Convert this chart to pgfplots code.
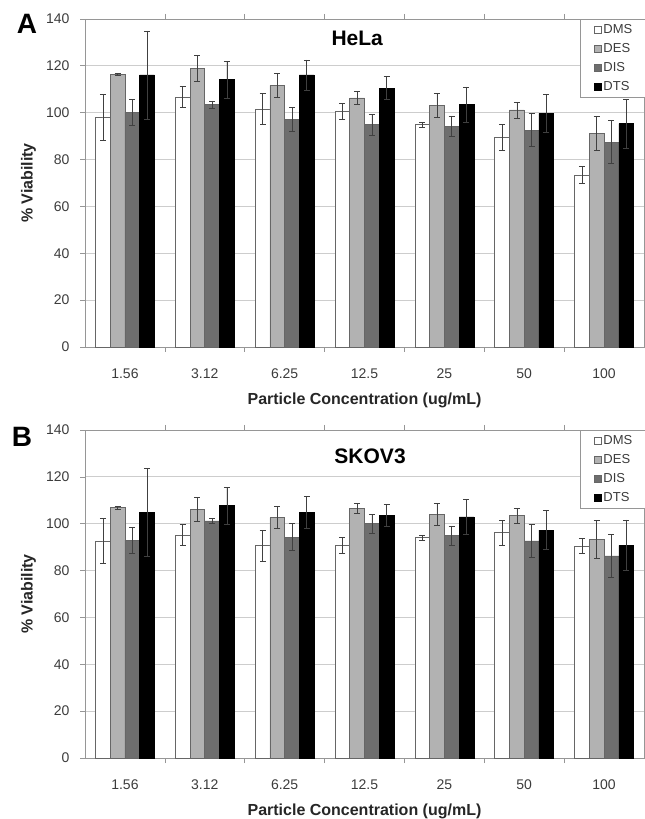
\documentclass[border=0pt]{standalone}
\usepackage{fontspec}
\setmainfont{Liberation Sans}
\usepackage{pgfplots}
\usepackage{pgfplotstable}
\pgfplotsset{compat=1.18}

\definecolor{desgray}{RGB}{178,178,178}
\definecolor{disgray}{RGB}{110,110,110}
\definecolor{axgray}{RGB}{150,150,150}
\definecolor{gridgray}{RGB}{205,205,205}
\definecolor{txtgray}{RGB}{60,60,60}

% HeLa viability, mean and error per particle type
\pgfplotstableread{
x dms dmse des dese dis dise dts dtse
0 98.2 9.8 116.5 0.5 100.2 5.6 116.1 18.8
1 106.6 4.5 119.0 5.4 103.5 1.5 114.1 7.8
2 101.6 6.7 111.7 5.0 97.2 5.2 116.1 6.4
3 100.5 3.4 106.3 2.7 94.9 4.5 110.5 4.9
4 94.9 1.1 103.2 5.1 94.3 4.3 103.5 7.5
5 89.5 5.6 101.2 3.4 92.6 7.1 99.7 8.0
6 73.4 3.6 91.2 7.4 87.4 9.2 95.3 10.3
}\helatab

% SKOV3 viability
\pgfplotstableread{
x dms dmse des dese dis dise dts dtse
0 92.6 9.7 106.8 0.5 93.0 5.5 104.9 18.8
1 95.2 4.4 106.2 5.1 101.2 1.2 107.7 7.9
2 90.6 6.6 102.6 4.7 94.3 5.7 104.9 6.8
3 90.9 3.5 106.6 2.2 100.0 4.1 103.6 4.7
4 94.0 0.9 104.0 4.8 95.0 4.1 102.9 7.5
5 96.2 5.4 103.4 3.2 92.7 7.0 97.3 8.3
6 90.5 3.3 93.2 8.1 86.3 9.0 90.8 10.8
}\skovtab

\pgfplotsset{
  panel/.style={
    width=559bp, height=328bp, scale only axis,
    ymin=0, ymax=140, ytick={0,20,...,140},
    xmin=-0.5, xmax=6.5,
    xtick={0,...,6},
    xticklabels={1.56,3.12,6.25,12.5,25,50,100},
    minor xtick={0.5,1.5,...,5.5},
    major x tick style={draw=none},
    tick align=outside,
    major tick length=5bp, minor tick length=5bp,
    tick style={axgray, line width=0.7bp},
    axis line style={axgray, line width=0.8bp},
    ymajorgrids, grid style={gridgray, line width=0.8bp},
    ybar=0pt, bar width=0.1847,
    tick label style={font=\fontsize{14bp}{16bp}\selectfont, text=txtgray},
    yticklabel style={xshift=-7bp},
    xticklabel style={yshift=-13bp},
    /pgf/number format/assume math mode=true,
    ylabel={\% Viability},
    xlabel={Particle Concentration (ug/mL)},
    label style={font=\fontsize{16bp}{18bp}\selectfont\bfseries, text=black!85},
    ylabel style={at={(axis description cs:-0.101,0.5)}, anchor=center},
    xlabel style={at={(axis description cs:0.5,-0.162)}, anchor=center},
    legend style={at={(rel axis cs:0.8855,1)}, anchor=north west, draw=axgray,
      font=\fontsize{13bp}{15bp}\selectfont, text=txtgray,
      nodes={text height=9.5bp, text depth=2.5bp, inner sep=1.5bp},
      row sep=4bp, inner xsep=14bp, inner ysep=3bp, line width=0.8bp},
    legend cell align=left,
    legend image code/.code={\draw[#1, line width=0.6bp] (0bp,-3.5bp) rectangle (7bp,3.5bp);},
    error bars/y dir=both, error bars/y explicit,
    error bars/error bar style={line width=0.6bp, draw=black!75},
    error bars/error mark options={rotate=90, mark size=3bp, line width=0.6bp, draw=black!75},
    clip=false,
  },
  dmsbar/.style={fill=white, draw=black!60, line width=0.6bp},
  desbar/.style={fill=desgray, draw=black!60, line width=0.6bp},
  disbar/.style={fill=disgray, draw=black!60, line width=0.6bp},
  dtsbar/.style={fill=black, draw=black, line width=0.6bp},
}

\begin{document}
\begin{tikzpicture}
\useasboundingbox (0,0) rectangle (645bp,819bp);

\begin{axis}[panel, at={(85bp,472bp)}, anchor=south west]
\addplot[dmsbar] table[x=x, y=dms, y error=dmse] {\helatab};
\addlegendentry{DMS}
\addplot[desbar] table[x=x, y=des, y error=dese] {\helatab};
\addlegendentry{DES}
\addplot[disbar] table[x=x, y=dis, y error=dise] {\helatab};
\addlegendentry{DIS}
\addplot[dtsbar] table[x=x, y=dts, y error=dtse] {\helatab};
\addlegendentry{DTS}
\node[font=\fontsize{21bp}{24bp}\selectfont\bfseries] at (axis description cs:0.487,0.942) {HeLa};
\end{axis}

\begin{axis}[panel, at={(85bp,61bp)}, anchor=south west]
\addplot[dmsbar] table[x=x, y=dms, y error=dmse] {\skovtab};
\addlegendentry{DMS}
\addplot[desbar] table[x=x, y=des, y error=dese] {\skovtab};
\addlegendentry{DES}
\addplot[disbar] table[x=x, y=dis, y error=dise] {\skovtab};
\addlegendentry{DIS}
\addplot[dtsbar] table[x=x, y=dts, y error=dtse] {\skovtab};
\addlegendentry{DTS}
\node[font=\fontsize{21bp}{24bp}\selectfont\bfseries] at (axis description cs:0.51,0.92) {SKOV3};
\end{axis}

\node[font=\fontsize{28bp}{30bp}\selectfont\bfseries] at (27bp,795bp) {A};
\node[font=\fontsize{28bp}{30bp}\selectfont\bfseries] at (22bp,382bp) {B};
\end{tikzpicture}
\end{document}
